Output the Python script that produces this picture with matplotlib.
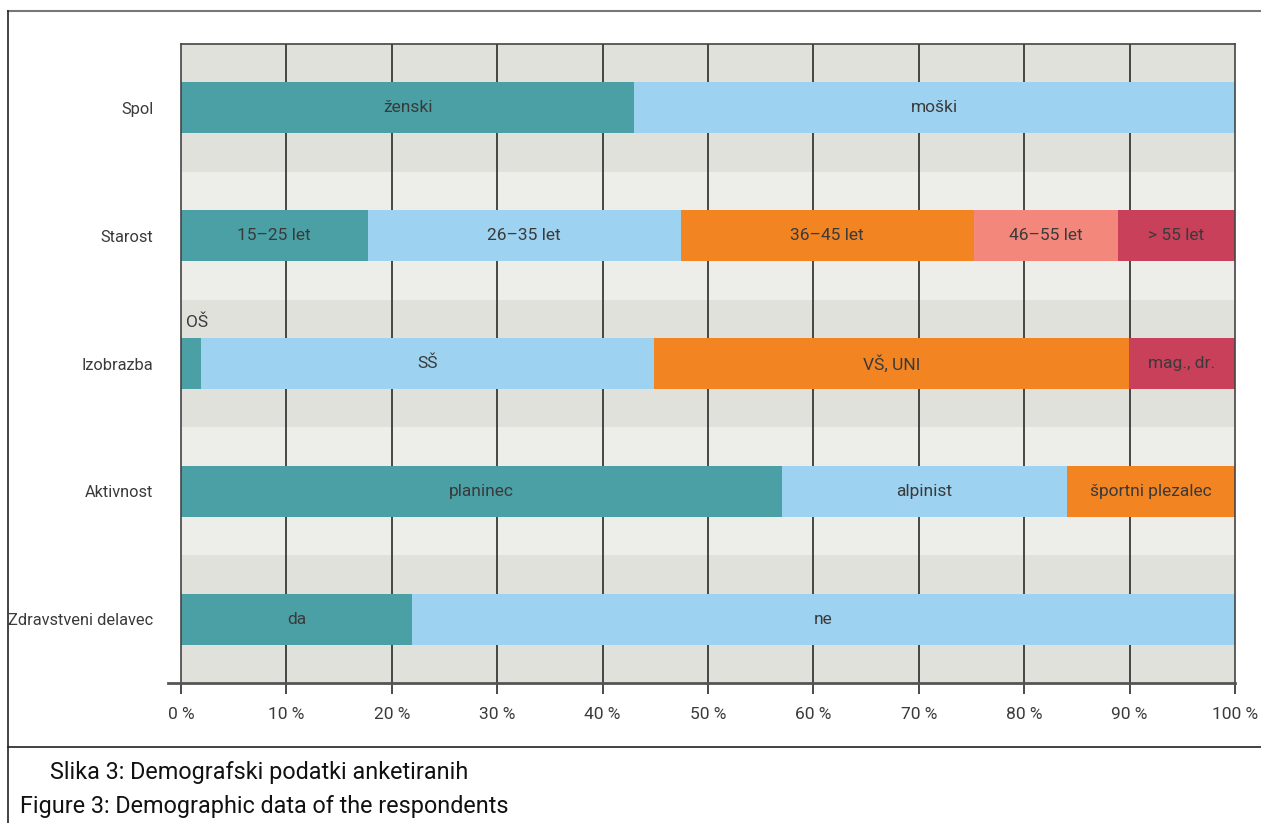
import matplotlib
matplotlib.use("Agg")
import matplotlib.pyplot as plt
from matplotlib.lines import Line2D

plt.rcParams['font.family'] = ['Roboto', 'DejaVu Sans']

categories = ["Spol", "Starost", "Izobrazba", "Aktivnost", "Zdravstveni delavec"]
segment_labels = [
    ["ženski", "moški"],
    ["15–25 let", "26–35 let", "36–45 let", "46–55 let", "> 55 let"],
    ["OŠ", "SŠ", "VŠ, UNI", "mag., dr."],
    ["planinec", "alpinist", "športni plezalec"],
    ["da", "ne"],
]
segment_values = [
    [43.0, 57.0],
    [17.7, 29.7, 27.8, 13.7, 11.1],
    [1.9, 43.0, 45.0, 10.1],
    [57.0, 27.1, 15.9],
    [21.9, 78.1],
]
xticks = list(range(0, 101, 10))
xtick_labels = [f"{t} %" for t in xticks]

teal, sky, orange, salmon, crimson = "#4aa0a5", "#9dd2f0", "#f28422", "#f4877c", "#c8405a"
segment_colors = [
    [teal, sky],
    [teal, sky, orange, salmon, crimson],
    [teal, sky, orange, crimson],
    [teal, sky, orange],
    [teal, sky],
]
band_dark = "#e1e1dc"
band_light = "#ededea"
text_col = "#3a3a3a"
fs = 12.5

fig = plt.figure(figsize=(12.61, 8.23), dpi=100)
ax = fig.add_axes([181 / 1261, 1 - 683 / 823, (1235 - 181) / 1261, (683 - 44) / 823])

# alternating background bands per category
for i in range(len(categories)):
    ax.axhspan(i - 0.5, i + 0.5, color=band_dark if i % 2 == 0 else band_light, zorder=0, lw=0)

for gx in xticks[1:-1]:
    ax.axvline(gx, color="#2b2b2b", lw=1.2, zorder=1)

for i, (labs, vals, cols) in enumerate(zip(segment_labels, segment_values, segment_colors)):
    left = 0
    for lab, v, c in zip(labs, vals, cols):
        ax.barh(i, v, left=left, height=0.4, color=c, lw=0, zorder=2)
        if lab == "OŠ":
            ax.text(left + 0.5, i - 0.32, lab, ha="left", va="center", fontsize=fs,
                    color=text_col)
        else:
            ax.text(left + v / 2, i, lab, ha="center", va="center", fontsize=fs,
                    color=text_col, zorder=3)
        left += v

ax.set_xlim(0, 100)
ax.set_ylim(4.5, -0.5)
ax.set_yticks(range(len(categories)))
ax.set_yticklabels(categories, fontsize=11.8, color=text_col)
ax.tick_params(axis="y", length=0, pad=20)
ax.set_xticks(xticks)
ax.set_xticklabels(xtick_labels, fontsize=fs, color=text_col)
ax.tick_params(axis="x", direction="out", length=8, width=1.2, color="#2b2b2b", pad=9)

for side in ["top", "left", "right"]:
    ax.spines[side].set_color("#444444")
    ax.spines[side].set_linewidth(1.2)
ax.spines["bottom"].set_visible(False)
# x axis line reaching a bit to the left of 0 %
ax.add_line(Line2D([-1.2, 100], [4.5, 4.5], color="#555555", lw=2, clip_on=False, zorder=4))

# outer frame and caption separator
fig.add_artist(Line2D([8 / 1261, 1], [1 - 11 / 823] * 2, color="#777777", lw=1.5))
fig.add_artist(Line2D([8 / 1261] * 2, [0, 1 - 11 / 823], color="#222222", lw=1.2))
fig.add_artist(Line2D([8 / 1261, 1], [1 - 747 / 823] * 2, color="#222222", lw=1.2))

fig.text(50 / 1261, 1 - 773 / 823, "Slika 3: Demografski podatki anketiranih", fontsize=16.8,
         color="#111111", va="center", ha="left")
fig.text(20 / 1261, 1 - 806 / 823, "Figure 3: Demographic data of the respondents", fontsize=16.8,
         color="#111111", va="center", ha="left")

fig.savefig("out.png", dpi=100)
